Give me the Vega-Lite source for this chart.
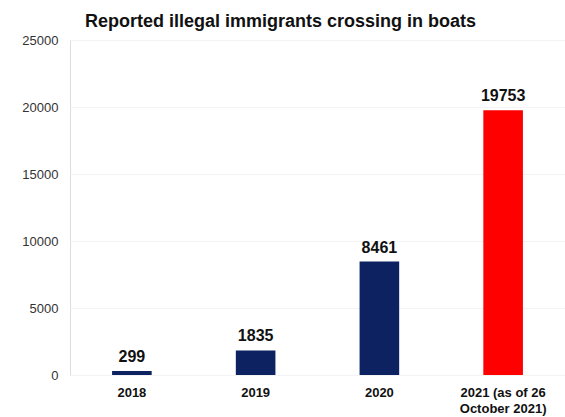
{
  "$schema": "https://vega.github.io/schema/vega-lite/v6.json",
  "autosize": {"type": "none"},
  "padding": {"left": 70, "top": 40, "right": 0, "bottom": 42},
  "width": 495,
  "height": 335,
  "background": "white",
  "title": {
    "text": "Reported illegal immigrants crossing in boats",
    "anchor": "start",
    "frame": "group",
    "dx": 15,
    "font": "Liberation Sans",
    "fontSize": 18,
    "fontWeight": "bold",
    "color": "#111111",
    "offset": 3
  },
  "data": {
    "values": [
      {"year": "2018", "count": 299, "highlight": "past"},
      {"year": "2019", "count": 1835, "highlight": "past"},
      {"year": "2020", "count": 8461, "highlight": "past"},
      {"year": "2021 (as of 26 October 2021)", "count": 19753, "highlight": "current"}
    ]
  },
  "encoding": {
    "x": {
      "field": "year",
      "type": "nominal",
      "sort": null,
      "scale": {"paddingInner": 0.68, "paddingOuter": 0.34},
      "axis": {
        "title": null,
        "labelAngle": 0,
        "domain": false,
        "ticks": false,
        "labelPadding": 11,
        "labelFont": "Liberation Sans",
        "labelFontSize": 13,
        "labelFontWeight": "bold",
        "labelColor": "#111111",
        "labelLineHeight": 16,
        "labelExpr": "datum.value == '2021 (as of 26 October 2021)' ? ['2021 (as of 26', 'October 2021)'] : datum.value"
      }
    },
    "y": {
      "field": "count",
      "type": "quantitative",
      "scale": {"domain": [0, 25000]},
      "axis": {
        "title": null,
        "values": [0, 5000, 10000, 15000, 20000, 25000],
        "format": "d",
        "domain": false,
        "ticks": false,
        "labelPadding": 12,
        "labelFont": "Liberation Sans",
        "labelFontSize": 13,
        "labelColor": "#333333",
        "gridColor": "#f3f3f3"
      }
    }
  },
  "layer": [
    {
      "mark": {"type": "bar"},
      "encoding": {
        "color": {
          "field": "highlight",
          "type": "nominal",
          "scale": {"domain": ["past", "current"], "range": ["#0d2260", "#ff0000"]},
          "legend": null
        }
      }
    },
    {
      "mark": {
        "type": "text",
        "baseline": "alphabetic",
        "dy": -9,
        "font": "Liberation Sans",
        "fontSize": 16,
        "fontWeight": "bold",
        "color": "#111111"
      },
      "encoding": {
        "text": {"field": "count", "type": "quantitative", "format": "d"}
      }
    }
  ]
}
